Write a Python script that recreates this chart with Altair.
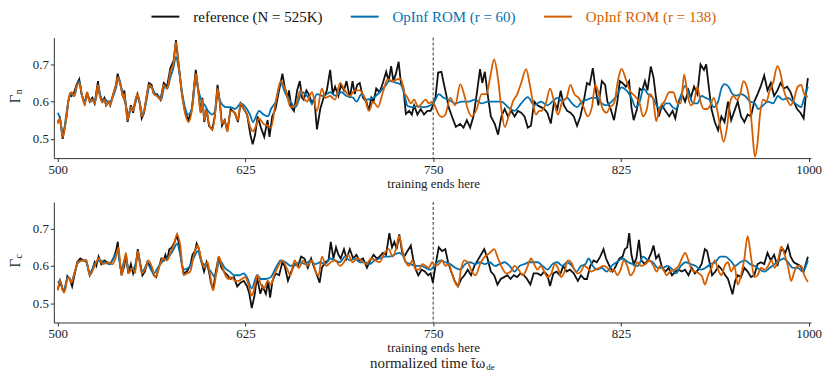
import altair as alt
import pandas as pd

# ---------------- data ----------------
series_names = ["reference (N = 525K)", "OpInf ROM (r = 60)", "OpInf ROM (r = 138)"]
series_colors = ["#111111", "#0072B2", "#D55E00"]
series_interp = ["linear", "monotone", "monotone"]
x_ticks = [500, 625, 750, 875, 1000]
x_tick_labels = ["500", "625", ["750", "training ends here"], "825", "1000"]
y_ticks = [0.5, 0.6, 0.7]
train_end = [750]
panel_symbols = [("Γ", "n"), ("Γ", "c")]
x_title = ("normalized time t̄ω", "de")

# top panel (Gamma_n): (time, value)
gn_ref = [
    (500, .545), (501.5, .555), (503.3, .50), (505.9, .56), (507, .60), (508.1, .62), (509.2, .615),
    (511, .625), (512.5, .645), (514.3, .66), (515.8, .62), (518, .595), (519.5, .625), (521.3, .60),
    (523, .61), (524.6, .595), (526.8, .655), (527.9, .62), (529.6, .60), (531.1, .61), (532.2, .59),
    (534, .60), (534.9, .59), (536.6, .615), (538.8, .645), (539.9, .675), (542.1, .64), (543.6, .61),
    (544.3, .63), (545.4, .59), (546.5, .545), (548.7, .59), (550.2, .57), (551.5, .60), (553.1, .62),
    (554.6, .595), (555.9, .555), (557.5, .57), (559, .61), (560.7, .65), (562.5, .645), (564, .62),
    (566.2, .62), (568.4, .605), (570.6, .65), (572.8, .64), (575, .69), (577.2, .71), (578.7, .765),
    (580.5, .70), (582.7, .62), (584.9, .57), (587.1, .55), (589.3, .58), (591.9, .685), (593.6, .63),
    (595.2, .57), (596.3, .61), (597.6, .545), (599.1, .58), (600.7, .535), (602.9, .525), (604.6, .56),
    (606.4, .645), (607.9, .60), (609.4, .535), (611.2, .55), (612.9, .52), (615.1, .58), (617.8, .57),
    (620, .545), (621.7, .595), (623.9, .58), (626.1, .565), (628.3, .51), (629.8, .485), (631.4, .51),
    (633.1, .56), (635.3, .53), (637.5, .505), (639.7, .55), (641, .505), (642.8, .56), (645, .58),
    (647.4, .63), (649.6, .675), (651.1, .64), (653, .61), (654, .63), (655.5, .585), (657.3, .575),
    (659.4, .63), (661.2, .655), (662.7, .61), (663.8, .605), (665.6, .63), (667.1, .62), (669.3, .595),
    (670.8, .61), (672.6, .525), (674.8, .58), (677, .61), (679.2, .63), (681.4, .685), (683.1, .62),
    (684.7, .64), (686.9, .615), (688.6, .645), (690.6, .63), (692.3, .655), (694.5, .61), (696.3, .655),
    (697.8, .62), (699.4, .645), (701.1, .65), (703.3, .61), (705.5, .60), (707.2, .575), (708.8, .61),
    (710.3, .60), (712.1, .635), (714.3, .625), (716.5, .65), (718.7, .68), (720.4, .655), (722, .695),
    (723.5, .655), (725.2, .675), (727, .707), (728.5, .65), (730.1, .64), (731.8, .567), (734, .575),
    (735.8, .565), (737.3, .59), (739.5, .565), (741.7, .58), (743.9, .565), (746.1, .575), (748.3, .575),
    (749.8, .59), (751.5, .61), (753.3, .678), (755.5, .68), (757, .65), (758.6, .62), (760.3, .585),
    (762.5, .56), (765.1, .532), (767.9, .54), (770.2, .53), (772.4, .55), (774.6, .53), (776.8, .56),
    (779, .62), (781.2, .687), (782.7, .65), (784.4, .68), (786.6, .61), (788.4, .56), (791, .54),
    (793.2, .511), (795.4, .56), (797.6, .58), (799.8, .56), (802, .575), (804.2, .56), (806.4, .575),
    (808.6, .57), (810.8, .56), (813, .53), (815.1, .535), (817.3, .60), (819.5, .59), (821.7, .585),
    (823.9, .58), (826, .57), (828.3, .541), (830.5, .60), (832.7, .58), (834.9, .629), (837, .59),
    (839.2, .575), (841.4, .57), (843.6, .56), (845.8, .535), (848, .56), (850.2, .60), (852.4, .65),
    (854.2, .645), (856.3, .69), (857.9, .64), (860, .59), (862.3, .655), (864.5, .645), (866, .60),
    (868.2, .58), (870.4, .55), (872.6, .60), (874.3, .655), (876, .65), (878.3, .64), (880.5, .655),
    (882, .585), (883.5, .55), (885.7, .58), (887.5, .635), (889.2, .63), (891, .655), (892.7, .63),
    (894.9, .694), (896.7, .665), (898.4, .61), (900.2, .56), (902.4, .59), (904.6, .575), (907.2, .56),
    (909.4, .575), (911.2, .555), (913.4, .60), (915.6, .62), (917.7, .60), (920, .63), (921.5, .61),
    (923.7, .64), (925.9, .62), (928, .70), (930.3, .685), (931.8, .70), (933.5, .64), (935.3, .58),
    (937.5, .545), (939.7, .523), (941.9, .56), (944, .545), (946.3, .60), (948.4, .55), (950.6, .575),
    (952.8, .60), (955, .56), (957.2, .545), (959.4, .565), (961.6, .56), (963.8, .60), (966, .62),
    (968, .64), (970.4, .67), (972.6, .63), (974.8, .65), (977, .615), (979.2, .63), (981.3, .65),
    (983.5, .635), (985.7, .64), (988, .625), (990.1, .60), (992.3, .58), (994.5, .57), (996.7, .555),
    (998.2, .62), (999.5, .663),
]
gn_r60 = [
    (500, .57), (501.5, .555), (503.5, .51), (505.5, .56), (507, .60), (509, .62), (511, .615), (513, .645),
    (514.5, .655), (516, .62), (518, .60), (520, .615), (522, .60), (524, .605), (525, .60), (527, .64),
    (528.5, .615), (530, .60), (532, .605), (534, .595), (536.5, .61), (539, .64), (540.5, .665),
    (542.5, .635), (544, .61), (546, .58), (547, .56), (549, .585), (550.5, .58), (552, .60), (553.5, .615),
    (555, .59), (556.5, .565), (559, .60), (561, .64), (563, .635), (565, .62), (567, .615), (569, .605),
    (571, .64), (573, .635), (575, .665), (577, .69), (578.7, .72), (580.5, .69), (583, .62), (585, .58),
    (587, .565), (589.5, .585), (592, .655), (594, .625), (596, .60), (598, .59), (600, .575), (603, .565),
    (605, .58), (606.5, .615), (609, .595), (612, .585), (615, .585), (618, .58), (622, .595), (625, .585),
    (628, .565), (630, .545), (632, .56), (634, .575), (637, .565), (640, .56), (642, .58), (645.2, .60),
    (648.5, .65), (651.8, .62), (655, .60), (658.3, .585), (662.7, .625), (667, .61), (669.3, .595),
    (672.6, .62), (677, .615), (681.4, .625), (684.7, .616), (689, .625), (692.3, .615), (696.7, .61),
    (699, .60), (702.2, .62), (705.5, .605), (710, .61), (714.3, .625), (718.6, .645), (720.8, .655),
    (725, .651), (728.5, .645), (730.7, .62), (733, .588), (736.2, .585), (739.5, .588), (744, .585),
    (748.3, .59), (751.5, .605), (753.7, .62), (757, .61), (760.3, .605), (764.7, .595), (769.1, .60),
    (773.5, .60), (777.9, .605), (782.3, .595), (786.6, .60), (791, .60), (795.4, .60), (799.8, .585),
    (804.2, .575), (808.6, .595), (813, .612), (817.3, .59), (821.7, .60), (826, .59), (829.4, .60),
    (832.7, .61), (836, .60), (839.2, .61), (842.5, .595), (845.8, .585), (849, .60), (852.4, .605),
    (855.7, .61), (859, .61), (862.3, .595), (865.5, .59), (868.8, .60), (872.1, .615), (875.4, .638),
    (878.7, .63), (882, .61), (884.8, .585), (887.5, .60), (890.1, .635), (893, .62), (896.3, .61),
    (899.5, .585), (901.7, .58), (905, .595), (907.2, .595), (909.4, .585), (911.6, .58), (914.9, .615),
    (917.7, .642), (920.4, .62), (923, .595), (925.9, .595), (928.7, .615), (931.3, .61), (934, .605),
    (936.8, .585), (939.7, .60), (941.9, .635), (944, .647), (946.7, .64), (949.3, .62), (952.2, .616),
    (955, .62), (957.7, .615), (961, .60), (964.2, .595), (966.4, .58), (969.7, .59), (972.9, .60),
    (976.3, .595), (979.6, .615), (982.9, .605), (986.2, .61), (989.5, .60), (992.7, .59), (995, .585),
    (996.7, .605), (999.5, .64),
]
gn_r138 = [
    (500, .54), (501.5, .555), (503.3, .505), (506, .565), (507, .60), (509, .625), (511, .615),
    (512.5, .64), (514.3, .65), (516, .62), (518, .59), (519.5, .625), (521.3, .60), (523, .605),
    (524.6, .595), (526.8, .645), (528, .615), (529.6, .60), (531, .605), (532.2, .59), (534, .60),
    (535, .59), (536.6, .615), (538.8, .645), (540, .665), (542, .64), (543.6, .61), (544.3, .62),
    (545.4, .585), (546.5, .55), (548.7, .585), (550.2, .575), (551.5, .60), (553, .62), (554.6, .595),
    (556, .56), (557.5, .575), (559, .61), (560.7, .645), (562.5, .64), (564, .62), (566, .615),
    (568.4, .605), (570.6, .645), (572.8, .635), (575, .68), (577.2, .705), (578.7, .76), (580.5, .70),
    (582.7, .62), (585, .565), (587, .545), (589.3, .575), (592, .675), (593.6, .625), (595.2, .57),
    (596.3, .605), (597.6, .55), (599, .575), (600.7, .54), (603, .525), (604.6, .56), (606.4, .635),
    (608, .595), (609.4, .54), (611, .55), (613, .52), (615, .575), (618, .57), (620, .55), (621.7, .595),
    (624, .58), (626, .565), (628.3, .53), (630, .52), (631.5, .53), (634, .555), (637, .54), (640, .535),
    (642, .53), (645.2, .60), (648.5, .655), (651.8, .63), (655, .585), (658.3, .59), (661.6, .63),
    (663.8, .61), (666, .60), (669.3, .625), (672.6, .575), (675.9, .635), (678.1, .61), (681.4, .615),
    (684.7, .605), (688, .65), (691.2, .63), (694.5, .615), (697.8, .63), (701.1, .63), (704.4, .61),
    (707.2, .575), (710, .60), (713.2, .585), (716.5, .625), (719.7, .66), (723, .655), (726.3, .66),
    (728.5, .66), (730.7, .625), (733, .61), (735.1, .595), (737.3, .605), (740.1, .585), (742.3, .595),
    (745, .605), (747.1, .595), (749.3, .60), (751.5, .585), (753.7, .565), (755.9, .558), (758.1, .565),
    (761.4, .61), (764.7, .59), (768, .647), (770.2, .625), (773, .58), (775.7, .56), (779, .58),
    (782.3, .62), (785.5, .62), (787.7, .66), (790.6, .713), (793.2, .66), (795.4, .58), (797.6, .532),
    (800.2, .56), (803.1, .60), (806, .62), (808.6, .65), (811.9, .687), (814.1, .65), (816.3, .60),
    (818.4, .565), (820.6, .575), (822.1, .575), (825, .595), (827.8, .635), (830.5, .60), (833.1, .565),
    (836, .60), (838.8, .61), (841.4, .645), (844, .62), (846.9, .61), (850.2, .585), (852.8, .56),
    (855.7, .585), (857.9, .645), (860, .625), (862.9, .58), (865.5, .57), (867.7, .585), (870.4, .595),
    (873.2, .66), (875.4, .688), (878.3, .66), (880.9, .63), (884.2, .615), (887.5, .595), (889.7, .56),
    (892.3, .58), (894.1, .62), (896.3, .61), (898.5, .547), (900.6, .58), (904, .60), (907.2, .625),
    (909.9, .625), (912.7, .595), (914.9, .595), (917.1, .673), (919.3, .62), (921.5, .59), (923.7, .60),
    (925.9, .64), (928, .60), (930.3, .58), (932.4, .58), (934.6, .59), (936.8, .61), (939, .58),
    (941.2, .53), (943.4, .492), (945.6, .53), (947.8, .60), (950, .615), (952.2, .605), (954.4, .62),
    (956.6, .655), (958.8, .64), (961, .59), (962.5, .52), (964.2, .452), (966, .49), (967.5, .56),
    (969.7, .605), (971.9, .60), (974.1, .63), (976.3, .65), (979.2, .695), (981.3, .675), (983.5, .63),
    (985.7, .605), (988, .59), (990.1, .605), (992.8, .64), (995, .645), (997.1, .62), (999.5, .613),
]

# bottom panel (Gamma_c): (time, value)
gc_ref = [
    (500, .535), (501.5, .56), (503.3, .535), (504.8, .535), (506.4, .573), (508, .565), (509.6, .545),
    (511.4, .58), (513, .61), (515, .62), (517, .615), (519, .615), (521.3, .575), (523, .59), (524.6, .61),
    (525.7, .60), (527.2, .625), (529, .605), (531, .615), (533, .61), (535, .605), (537, .62), (538.8, .64),
    (540, .665), (541, .62), (542.5, .575), (544.3, .60), (545.4, .63), (547, .58), (548.7, .605),
    (550.2, .58), (552, .605), (553.3, .645), (554.8, .61), (556.4, .575), (558, .585), (559.6, .61),
    (561.8, .60), (564, .575), (565.6, .57), (567.3, .595), (569, .62), (570.6, .615), (571.7, .63),
    (572.8, .615), (574.3, .645), (576, .65), (577.9, .665), (579.4, .683), (581, .655), (582.2, .615),
    (583.8, .58), (586, .585), (588.2, .60), (589.7, .63), (591.4, .64), (592.5, .66), (594, .645),
    (595.8, .61), (597.4, .585), (599.1, .61), (600.7, .585), (602, .555), (603.5, .535), (605, .58),
    (607.2, .625), (609, .595), (610.7, .585), (613, .575), (615.1, .565), (617.3, .57), (619.5, .545),
    (621.7, .555), (623.9, .56), (626.1, .545), (627.6, .525), (629.2, .487), (631, .52), (632.7, .57),
    (634.9, .525), (636.4, .545), (638.6, .525), (640.1, .56), (641.4, .515), (643, .56), (645.2, .58),
    (647.4, .575), (649.6, .61), (651.1, .60), (653.3, .56), (655.5, .585), (657.7, .605), (659.9, .60),
    (662.1, .625), (664.3, .62), (666.5, .595), (668.7, .62), (670.4, .60), (672.6, .575), (674.4, .555),
    (675.9, .595), (678.1, .61), (680.3, .615), (681.8, .665), (683.6, .62), (685.3, .65), (686.9, .63),
    (688.4, .62), (690.6, .645), (692.3, .62), (694.5, .645), (696.7, .62), (698.9, .63), (700.7, .615),
    (703.3, .62), (705.9, .595), (708.1, .615), (710.3, .63), (712.5, .62), (714.3, .625), (716.5, .635),
    (718.6, .63), (720.8, .688), (722.6, .65), (724.1, .665), (725.7, .645), (727.4, .685), (729.2, .64),
    (730.7, .625), (732.9, .64), (735.1, .655), (736.6, .62), (738.4, .59), (740.1, .575), (742.3, .59),
    (744.5, .585), (746.7, .575), (748.3, .58), (749.8, .555), (751.5, .60), (753.7, .65), (755.9, .64),
    (758.1, .645), (759.9, .61), (762, .585), (764.3, .56), (766.5, .545), (768.7, .565), (770.8, .575),
    (773, .59), (775.2, .575), (777.4, .60), (779.6, .615), (781.8, .63), (784, .645), (786.2, .62),
    (788.4, .585), (790.6, .575), (792.8, .55), (795, .565), (797.2, .57), (799.4, .575), (801.5, .565),
    (803.7, .575), (805.9, .57), (808.1, .58), (810.3, .575), (812.5, .565), (814.7, .55), (816.9, .58),
    (819.5, .58), (821.7, .575), (823.9, .585), (826.1, .575), (827.8, .546), (830, .58), (832.2, .585),
    (834.4, .575), (836.6, .60), (838.8, .585), (841, .59), (843.6, .58), (846.3, .56), (848.4, .575),
    (850.6, .565), (852.4, .565), (854.6, .60), (856.8, .615), (859, .61), (861.2, .625), (863.4, .645),
    (865.1, .62), (867.3, .60), (869.5, .585), (871.7, .60), (873.9, .62), (876.1, .625), (877.6, .645),
    (879.2, .65), (880.5, .688), (882, .63), (883.5, .605), (885.3, .62), (887, .67), (888.6, .615),
    (890.8, .605), (893, .615), (895.2, .635), (896.7, .655), (898.4, .62), (900.2, .63), (902.4, .595),
    (904.6, .585), (906.8, .595), (909, .575), (911.2, .585), (913.4, .59), (915.6, .585), (917.7, .59),
    (920, .575), (922.1, .595), (924.3, .58), (926.5, .59), (928.7, .605), (930.9, .645), (932.4, .64),
    (934, .61), (935.7, .575), (937.9, .585), (940.1, .60), (942.3, .59), (944.5, .575), (946.3, .565),
    (947.8, .545), (949.3, .524), (951.1, .56), (952.8, .575), (955, .57), (957.2, .595), (959.4, .585),
    (961.6, .57), (963.8, .575), (966, .605), (968.2, .61), (970.4, .605), (972.6, .635), (974.8, .615),
    (977, .63), (979.2, .60), (981.3, .64), (982.9, .645), (984.4, .635), (986.2, .655), (988, .625),
    (990.1, .61), (992.3, .605), (994.5, .60), (996.7, .585), (999.5, .625),
]
gc_r60 = [
    (500, .555), (501.5, .56), (503.7, .535), (507, .57), (509.2, .56), (511.4, .585), (513.6, .61),
    (517, .615), (519, .61), (521.3, .58), (524.6, .605), (527.9, .615), (531, .61), (534.4, .605),
    (537.7, .625), (540, .64), (542.1, .59), (545, .62), (547.7, .59), (550.9, .595), (553.3, .625),
    (556.4, .585), (559.6, .605), (564, .58), (567.3, .60), (570.6, .615), (574, .625), (577.2, .645),
    (579.4, .66), (581.6, .63), (583.8, .59), (587.1, .595), (590.4, .62), (593.2, .64), (595.8, .61),
    (599.1, .60), (602, .585), (604.6, .57), (607.9, .615), (611.2, .595), (614.5, .585), (617.8, .575),
    (621.1, .575), (623.9, .58), (626.5, .565), (629.2, .54), (632.7, .575), (635.3, .565), (638.6, .565),
    (641.9, .57), (645.2, .595), (648.5, .615), (651.8, .61), (655, .60), (658.3, .605), (661.6, .61),
    (664.9, .605), (668.2, .615), (671.5, .605), (674.8, .61), (678.1, .605), (681.4, .62), (684.7, .615),
    (688, .61), (691.2, .625), (694.5, .615), (697.8, .62), (701.1, .61), (704.4, .61), (707.7, .605),
    (711, .615), (714.3, .62), (717.6, .625), (720.8, .625), (724.1, .63), (727.4, .635), (729.6, .63),
    (731.8, .61), (735.1, .605), (738.4, .60), (741.7, .60), (745, .595), (748.3, .59), (751.5, .605),
    (754.8, .615), (758.1, .61), (761.4, .605), (764.7, .595), (768, .59), (771.3, .605), (774.6, .61),
    (777.9, .605), (781.2, .61), (784.4, .605), (787.7, .61), (791, .60), (794.3, .605), (797.6, .61),
    (800.9, .60), (804.2, .585), (807.5, .60), (810.7, .605), (814, .61), (817.3, .61), (819.5, .61),
    (822.8, .60), (826.1, .59), (829.4, .605), (832.7, .61), (836, .60), (839.2, .61), (842.5, .60),
    (845.4, .585), (848.4, .60), (851.3, .605), (853.5, .62), (856.3, .60), (859, .59), (862.3, .595),
    (865.5, .585), (868.8, .60), (872.1, .61), (876.1, .62), (879.8, .61), (883.1, .605), (886.4, .60),
    (889.7, .625), (893, .615), (896.3, .61), (899.5, .595), (902.8, .595), (906.1, .60), (909.4, .59),
    (911.6, .58), (914.9, .60), (918.2, .61), (921.5, .605), (924.8, .60), (928.1, .59), (931.3, .595),
    (934.6, .605), (937.9, .61), (941.2, .625), (944.5, .625), (947.8, .615), (951.1, .60), (954.4, .61),
    (957.7, .615), (961, .605), (964.2, .60), (967.5, .59), (970.8, .585), (974.1, .595), (977.4, .605),
    (980.7, .615), (983.5, .62), (986.2, .61), (989.5, .595), (992.8, .595), (996, .585), (999.5, .615),
]
gc_r138 = [
    (500, .535), (501.5, .56), (504.2, .528), (507, .57), (509.2, .555), (511.4, .585), (513.6, .61),
    (517, .615), (519, .615), (521.3, .575), (524.6, .60), (527.2, .62), (530, .605), (533.3, .61),
    (536.6, .605), (538.8, .625), (540.4, .65), (542.5, .575), (545.4, .635), (547.2, .58), (549.8, .595),
    (551.5, .58), (553.3, .64), (555.9, .58), (558, .59), (560.3, .615), (562.9, .595), (565.1, .57),
    (567.8, .60), (570, .62), (572.8, .615), (575, .635), (577.2, .655), (579.4, .685), (581.6, .655),
    (583.8, .575), (586, .58), (588.2, .585), (590.4, .625), (593.2, .655), (595.4, .62), (597.6, .595),
    (599.8, .61), (601.3, .58), (603.5, .535), (605.7, .585), (607.2, .625), (609.4, .60), (611.6, .575),
    (613.8, .565), (616, .57), (617.8, .56), (620.4, .56), (622.6, .565), (624.8, .57), (627, .55),
    (629.2, .52), (631.4, .55), (633.1, .575), (635.3, .55), (637.5, .54), (639.7, .56), (641.9, .55),
    (644.1, .575), (646.3, .595), (649.6, .615), (652.4, .595), (655, .575), (657.7, .615), (660.5, .595),
    (663.4, .615), (666, .60), (669.3, .615), (672.2, .58), (673.7, .575), (675.9, .625), (678.8, .60),
    (681.8, .61), (684.7, .615), (688, .60), (690.6, .61), (693.4, .63), (696.3, .61), (699.4, .62),
    (702.2, .615), (705.5, .605), (708.8, .62), (711.6, .615), (714.3, .61), (717.6, .635), (720.4, .645),
    (723, .625), (725.2, .645), (727.4, .68), (729.6, .64), (731.8, .61), (734, .60), (736.2, .615),
    (738.4, .59), (740.6, .59), (742.8, .605), (745, .60), (747.2, .595), (749.3, .61), (751.5, .60),
    (753.7, .605), (755.9, .615), (758.1, .60), (760.3, .605), (762.5, .58), (764.7, .555), (766.5, .545),
    (768.7, .595), (770.8, .615), (773, .61), (775.7, .585), (778.3, .575), (781.2, .605), (784.4, .625),
    (787.7, .635), (790.6, .645), (793.2, .62), (795.9, .595), (798.7, .58), (801.6, .585), (804.2, .60),
    (806.8, .59), (809.7, .575), (812.5, .595), (815.1, .62), (817.8, .60), (819.5, .59), (821.7, .60),
    (823.9, .585), (826.1, .57), (828.7, .58), (830.9, .605), (833.1, .595), (835.3, .57), (837.5, .585),
    (839.7, .615), (841.9, .61), (844.1, .59), (846.3, .58), (848.4, .585), (850.6, .60), (852.8, .595),
    (855, .585), (857.9, .59), (860.7, .595), (863.4, .60), (866, .595), (868.2, .585), (870.4, .59),
    (872.6, .575), (874.8, .59), (876.9, .615), (879.2, .60), (881.3, .575), (883.5, .585), (885.7, .61),
    (888.6, .60), (891.4, .605), (894.1, .615), (896.7, .60), (898.9, .585), (901.1, .60), (903.3, .59),
    (905.5, .575), (907.7, .585), (910.5, .59), (913.4, .60), (915.6, .62), (917.7, .635), (920, .615),
    (922.1, .59), (924.3, .585), (927, .58), (929.2, .57), (930.9, .55), (933.1, .575), (935.3, .595),
    (937.5, .615), (939.7, .59), (941.9, .575), (944.1, .60), (946.3, .61), (948.4, .585), (950.6, .60),
    (952.8, .55), (955, .575), (957.2, .62), (959.4, .68), (961.6, .625), (963.8, .57), (966, .575),
    (968.2, .595), (970.8, .59), (973, .60), (975.2, .615), (977.4, .595), (979.6, .615), (981.8, .652),
    (984, .63), (986.2, .60), (988.4, .56), (990.5, .585), (992.8, .60), (995, .60), (997.1, .575),
    (999.5, .557),
]

# ---------------- chart ----------------
FONT = "Liberation Serif"
TXT = "#222222"
W, H = 760, 121


def js(v):
    if isinstance(v, list):
        return "[" + ", ".join(repr(s) for s in v) + "]"
    return repr(v)


x_label_expr = " : ".join(
    f"datum.value == {v} ? {js(lab)}" for v, lab in zip(x_ticks, x_tick_labels)
) + " : datum.label"
legend_color_expr = " : ".join(
    f"datum.label == {n!r} ? {c!r}" for n, c in zip(series_names, series_colors)
) + " : 'black'"

legend = alt.Legend(
    orient="none", legendX=104, legendY=-29, direction="horizontal", columns=3,
    title=None, symbolType="M-2,0H2", symbolSize=196, symbolStrokeWidth=2,
    labelFont=FONT, labelFontSize=15, labelOffset=20, columnPadding=24,
    labelColor={"expr": legend_color_expr}, labelLimit=300, padding=0,
)


def panel(ref, r60, r138, sym, sub, bottom):
    frames = []
    for name, pts in zip(series_names, [ref, r60, r138]):
        frames.append(pd.DataFrame({"t": [p[0] for p in pts], "v": [p[1] for p in pts], "series": name}))
    df = pd.concat(frames, ignore_index=True)

    x = alt.X("t:Q", scale=alt.Scale(domain=[497.4, 1001.6], nice=False, zero=False),
              axis=alt.Axis(values=x_ticks, labelExpr=x_label_expr, title=None, grid=False,
                            labelOverlap=False, labelBound=False, labelFlush=False))
    y = alt.Y("v:Q", scale=alt.Scale(domain=[0.448, 0.772], nice=False, zero=False),
              axis=alt.Axis(values=y_ticks, format=".1f", title=None, grid=False))
    color = alt.Color("series:N", scale=alt.Scale(domain=series_names, range=series_colors), legend=legend)

    layers = []
    base = alt.Chart(df)
    for name, interp in zip(series_names, series_interp):
        layers.append(
            base.transform_filter(alt.datum.series == name)
            .mark_line(strokeWidth=1.8, interpolate=interp)
            .encode(x=x, y=y, color=color)
        )
    rule = alt.Chart(pd.DataFrame({"t": train_end})).mark_rule(
        color="black", strokeDash=[3, 2], strokeWidth=0.8
    ).encode(x=alt.X("t:Q"))
    lab = pd.DataFrame({"s": [sym], "sub": [sub]})
    ytitle = alt.Chart(lab).mark_text(angle=270, font=FONT, fontSize=15, color=TXT).encode(
        text="s:N", x=alt.value(-39), y=alt.value(H / 2 + 1))
    ysub = alt.Chart(lab).mark_text(angle=270, font=FONT, fontSize=10, color=TXT).encode(
        text="sub:N", x=alt.value(-35), y=alt.value(H / 2 - 6))
    parts = [rule] + layers + [ytitle, ysub]
    if bottom:
        tt = pd.DataFrame({"a": [x_title[0]], "b": [x_title[1]]})
        parts.append(alt.Chart(tt).mark_text(font=FONT, fontSize=15, color=TXT, align="right",
                                             baseline="alphabetic").encode(
            text="a:N", x=alt.value(W / 2 + 53), y=alt.value(H + 46)))
        parts.append(alt.Chart(tt).mark_text(font=FONT, fontSize=9, color=TXT, align="left",
                                             baseline="alphabetic").encode(
            text="b:N", x=alt.value(W / 2 + 54), y=alt.value(H + 48)))
    return alt.layer(*parts).properties(width=W, height=H)


top = panel(gn_ref, gn_r60, gn_r138, panel_symbols[0][0], panel_symbols[0][1], False)
bot = panel(gc_ref, gc_r60, gc_r138, panel_symbols[1][0], panel_symbols[1][1], True)

chart = (
    alt.vconcat(top, bot, spacing=10)
    .resolve_scale(color="shared")
    .properties(padding={"left": 0, "top": 0, "right": 0, "bottom": 0})
    .configure_view(stroke=None)
    .configure_axis(
        labelFont=FONT, labelFontSize=13, labelColor=TXT, domainColor="#333333", tickColor="#333333",
        domainWidth=1, tickWidth=1, tickSize=3.5, labelPadding=2, labelLineHeight=14,
    )
)

chart.save("out.html", embed_options={"renderer": "svg", "actions": False})
